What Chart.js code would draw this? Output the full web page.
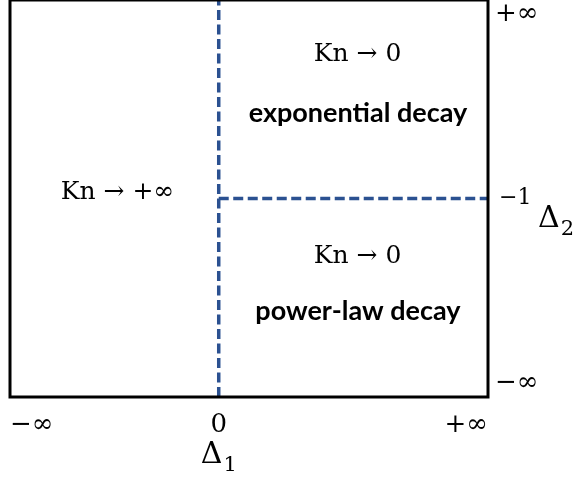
<!DOCTYPE html>
<html>
<head>
<meta charset="utf-8">
<script src="https://cdn.jsdelivr.net/npm/chart.js@4.4.0/dist/chart.umd.min.js"></script>
<style>
  html, body { margin: 0; padding: 0; background: #fff; }
  #wrap { width: 583px; height: 482px; }
</style>
</head>
<body>
<div id="wrap"><canvas id="regimeChart" width="583" height="482"></canvas></div>
<script>
  // axis ticks (−∞ and +∞ are mapped onto finite ends of a schematic axis)
  const xTickValues = [-1, 0, 1.29];
  const xTickLabels = ["−∞", "0", "+∞"];
  const yTickValues = [-2, -1, 0];
  const yTickLabels = ["−∞", "−1", "+∞"];

  // dashed boundaries: Δ1 = 0, and Δ2 = −1 for Δ1 > 0
  const boundaryX = [0, 0];
  const boundaryY = [-2, 0];
  const splitX = [0, 1.29];
  const splitY = [-1, -1];

  // region annotations, anchored at (Δ1, Δ2) of their baseline
  const regimeLabels = ["Kn → 0", "Kn → +∞", "Kn → 0"];
  const regimeX = [0.665, -0.485, 0.665];
  const regimeY = [-0.308, -1.0, -1.323];
  const decayLabels = ["exponential decay", "power-law decay"];
  const decayX = [0.667, 0.667];
  const decayY = [-0.616, -1.611];

  const SERIF = '"DejaVu Serif", serif';
  const SANS = 'Lato, "Open Sans", sans-serif';
  const DASH_BLUE = "#2b5191";

  function toPoints(xs, ys) {
    return xs.map((v, i) => ({ x: v, y: ys[i] }));
  }

  function drawSubscripted(ctx, main, sub, left, baseline) {
    ctx.font = `30px ${SERIF}`;
    ctx.fillText(main, left, baseline);
    const w = ctx.measureText(main).width;
    ctx.font = `21px ${SERIF}`;
    ctx.fillText(sub, left + w + 1, baseline + 8);
  }

  function subscriptedWidth(ctx, main, sub) {
    ctx.font = `30px ${SERIF}`;
    const w = ctx.measureText(main).width;
    ctx.font = `21px ${SERIF}`;
    return w + 1 + ctx.measureText(sub).width;
  }

  const framePlugin = {
    id: "frame",
    afterDatasetsDraw(chart) {
      const { ctx, chartArea: a } = chart;
      ctx.save();
      ctx.strokeStyle = "#000";
      ctx.lineWidth = 3;
      ctx.strokeRect(a.left, a.top, a.right - a.left, a.bottom - a.top);
      ctx.restore();
    }
  };

  const textPlugin = {
    id: "regionText",
    afterDraw(chart) {
      const { ctx, scales: { x, y } } = chart;
      ctx.save();
      ctx.fillStyle = "#000";
      ctx.textBaseline = "alphabetic";
      ctx.textAlign = "center";

      ctx.font = `25px ${SERIF}`;
      regimeLabels.forEach((t, i) => {
        ctx.fillText(t, x.getPixelForValue(regimeX[i]), y.getPixelForValue(regimeY[i]));
      });

      ctx.font = `bold 27px ${SANS}`;
      decayLabels.forEach((t, i) => {
        ctx.fillText(t, x.getPixelForValue(decayX[i]), y.getPixelForValue(decayY[i]));
      });

      // right-hand tick labels: first sits on the bottom edge, last on the top edge
      ctx.textAlign = "left";
      const last = yTickValues.length - 1;
      yTickValues.forEach((v, i) => {
        const py = y.getPixelForValue(v);
        if (i === 0) {
          ctx.font = `26px ${SERIF}`;
          ctx.textBaseline = "bottom";
          ctx.fillText(yTickLabels[i], y.left + 7, py - 1);
        } else if (i === last) {
          ctx.font = `26px ${SERIF}`;
          ctx.textBaseline = "top";
          ctx.fillText(yTickLabels[i], y.left + 7, py + 1);
        } else {
          ctx.font = `22px ${SERIF}`;
          ctx.textBaseline = "middle";
          ctx.fillText(yTickLabels[i], y.left + 11, py);
        }
      });

      // axis names
      ctx.textBaseline = "alphabetic";
      const cx = x.getPixelForValue(0);
      const w1 = subscriptedWidth(ctx, "Δ", "1");
      drawSubscripted(ctx, "Δ", "1", cx - w1 / 2, chart.chartArea.bottom + 66);
      drawSubscripted(ctx, "Δ", "2", y.left + 50, y.getPixelForValue(-1) + 28);
      ctx.restore();
    }
  };

  new Chart(document.getElementById("regimeChart"), {
    type: "scatter",
    data: {
      datasets: [
        {
          data: toPoints(boundaryX, boundaryY),
          showLine: true,
          borderColor: DASH_BLUE,
          borderWidth: 3.5,
          borderDash: [10, 4.5],
          pointRadius: 0
        },
        {
          data: toPoints(splitX, splitY),
          showLine: true,
          borderColor: DASH_BLUE,
          borderWidth: 3.5,
          borderDash: [10, 4.5],
          pointRadius: 0
        }
      ]
    },
    options: {
      responsive: false,
      animation: false,
      layout: { padding: { left: 10, top: 0, right: 0, bottom: 0 } },
      plugins: { legend: { display: false }, tooltip: { enabled: false } },
      scales: {
        x: {
          type: "linear",
          min: xTickValues[0],
          max: xTickValues[xTickValues.length - 1],
          grid: { display: false, drawTicks: false },
          border: { display: false },
          afterBuildTicks(scale) {
            scale.ticks = xTickValues.map((v) => ({ value: v }));
          },
          afterFit(scale) {
            scale.height = 85;
            scale.paddingLeft = 0;
            scale.paddingRight = 0;
          },
          ticks: {
            align: "inner",
            padding: 13,
            maxRotation: 0,
            autoSkip: false,
            color: "#000",
            font: { family: SERIF, size: 26 },
            callback(value, index) {
              return xTickLabels[index];
            }
          }
        },
        y: {
          type: "linear",
          position: "right",
          min: yTickValues[0],
          max: yTickValues[yTickValues.length - 1],
          grid: { display: false, drawTicks: false },
          border: { display: false },
          ticks: { display: false },
          afterFit(scale) {
            scale.width = 95;
            scale.paddingTop = 0;
            scale.paddingBottom = 0;
          }
        }
      }
    },
    plugins: [framePlugin, textPlugin]
  });
</script>
</body>
</html>
